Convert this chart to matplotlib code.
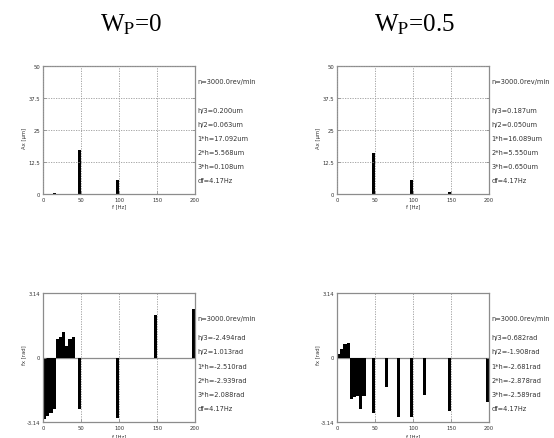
import matplotlib
matplotlib.use("Agg")
import matplotlib.pyplot as plt

plt.rcParams['mathtext.fontset'] = 'stix'

df = 4.17  # frequency resolution, Hz

# amplitude spectra (um) at h/3, h/2, 1h, 2h, 3h
amp_freq = [16.67, 25.0, 50.0, 100.0, 150.0]
amp_wp0 = [0.200, 0.063, 17.092, 5.568, 0.108]
amp_wp05 = [0.187, 0.050, 16.089, 5.550, 0.650]

# phase spectra (rad)
ph_freq_wp0 = [4.17, 8.33, 12.5, 16.67, 20.83, 25.0, 29.17, 33.33, 37.5, 41.67,
               50.0, 100.0, 150.0, 200.0]
ph_wp0 = [-2.97, -2.84, -2.71, -2.494, 0.90, 1.013, 1.26, 0.55, 0.90, 0.98,
          -2.510, -2.939, 2.088, 2.35]
ph_freq_wp05 = [4.17, 8.33, 12.5, 16.67, 20.83, 25.0, 29.17, 33.33, 37.5,
                50.0, 66.67, 83.33, 100.0, 116.67, 150.0, 200.0]
ph_wp05 = [0.15, 0.42, 0.66, 0.682, -2.0, -1.908, -1.89, -2.52, -1.89,
           -2.681, -1.46, -2.88, -2.878, -1.82, -2.589, -2.15]

titles = ["W$_{\\rm P}$=0", "W$_{\\rm P}$=0.5"]
title_x = [131 / 554, 415 / 554]
amp_notes = [
    ["h/3=0.200um", "h/2=0.063um", "1*h=17.092um", "2*h=5.568um", "3*h=0.108um"],
    ["h/3=0.187um", "h/2=0.050um", "1*h=16.089um", "2*h=5.550um", "3*h=0.650um"],
]
ph_notes = [
    ["h/3=-2.494rad", "h/2=1.013rad", "1*h=-2.510rad", "2*h=-2.939rad", "3*h=2.088rad"],
    ["h/3=0.682rad", "h/2=-1.908rad", "1*h=-2.681rad", "2*h=-2.878rad", "3*h=-2.589rad"],
]

frame = '#8c8c8c'
small = dict(family='DejaVu Sans', fontsize=4.8, color='#333333')

fig = plt.figure(figsize=(5.54, 4.39), dpi=100)


def style_axes(ax):
    for sp in ax.spines.values():
        sp.set_color(frame)
        sp.set_linewidth(0.9)
    ax.set_xlim(0, 200)
    ax.set_xticks([0, 50, 100, 150, 200])
    ax.tick_params(labelsize=3.8, labelcolor='#333333', length=2.5, width=0.6,
                   color=frame, direction='in', right=True, pad=2)
    ax.set_axisbelow(False)


def notes(ax, first_y, lines):
    ax.text(1.015, first_y, "n=3000.0rev/min", transform=ax.transAxes,
            va='center', ha='left', **small)
    for i, s in enumerate(lines + ["df=4.17Hz"]):
        ax.text(1.015, 0.656 - i * 0.1093, s, transform=ax.transAxes,
                va='center', ha='left', **small)


lefts = [43 / 554, 337 / 554]
w = 152 / 554
for k in range(2):
    # amplitude
    ax = fig.add_axes([lefts[k], 244 / 439, w, 128 / 439])
    amp = amp_wp0 if k == 0 else amp_wp05
    ax.bar(amp_freq, amp, width=-df, align='edge', color='black', zorder=2)
    ax.set_ylim(0, 50)
    ax.set_yticks([0, 12.5, 25, 37.5, 50])
    ax.set_yticklabels(["0", "12.5", "25", "37.5", "50"])
    style_axes(ax)
    ax.grid(True, linestyle=(0, (1.5, 1.5)), color='#999999', linewidth=0.6, zorder=3)
    ax.set_xlabel("f [Hz]", fontsize=3.8, labelpad=1, color='#333333')
    ax.set_ylabel("Ax [μm]", fontsize=3.8, color='#333333')
    ax.yaxis.set_label_coords(-0.105, 0.44)
    notes(ax, 0.883, amp_notes[k])
    fig.text(title_x[k], 1 - 25 / 439, titles[k],
             ha='center', va='center', family='Liberation Serif', fontsize=18)

    # phase
    ax = fig.add_axes([lefts[k], 16 / 439, w, 129 / 439])
    pf = ph_freq_wp0 if k == 0 else ph_freq_wp05
    pv = ph_wp0 if k == 0 else ph_wp05
    ax.bar(pf, pv, width=-df, align='edge', color='black', zorder=2)
    ax.set_ylim(-3.14, 3.14)
    ax.set_yticks([-3.14, 0, 3.14])
    ax.set_yticklabels(["-3.14", "0", "3.14"])
    style_axes(ax)
    ax.axhline(0, color=frame, linewidth=0.9, zorder=1)
    for x in [50, 100, 150]:
        ax.axvline(x, linestyle=(0, (1.5, 1.5)), color='#999999', linewidth=0.6, zorder=3)
    ax.set_xlabel("f [Hz]", fontsize=3.8, labelpad=2.5, color='#333333')
    ax.set_ylabel("fx [rad]", fontsize=3.8, color='#333333')
    ax.yaxis.set_label_coords(-0.11, 0.53)
    notes(ax, 0.806, ph_notes[k])

fig.savefig("out.png", dpi=100)
